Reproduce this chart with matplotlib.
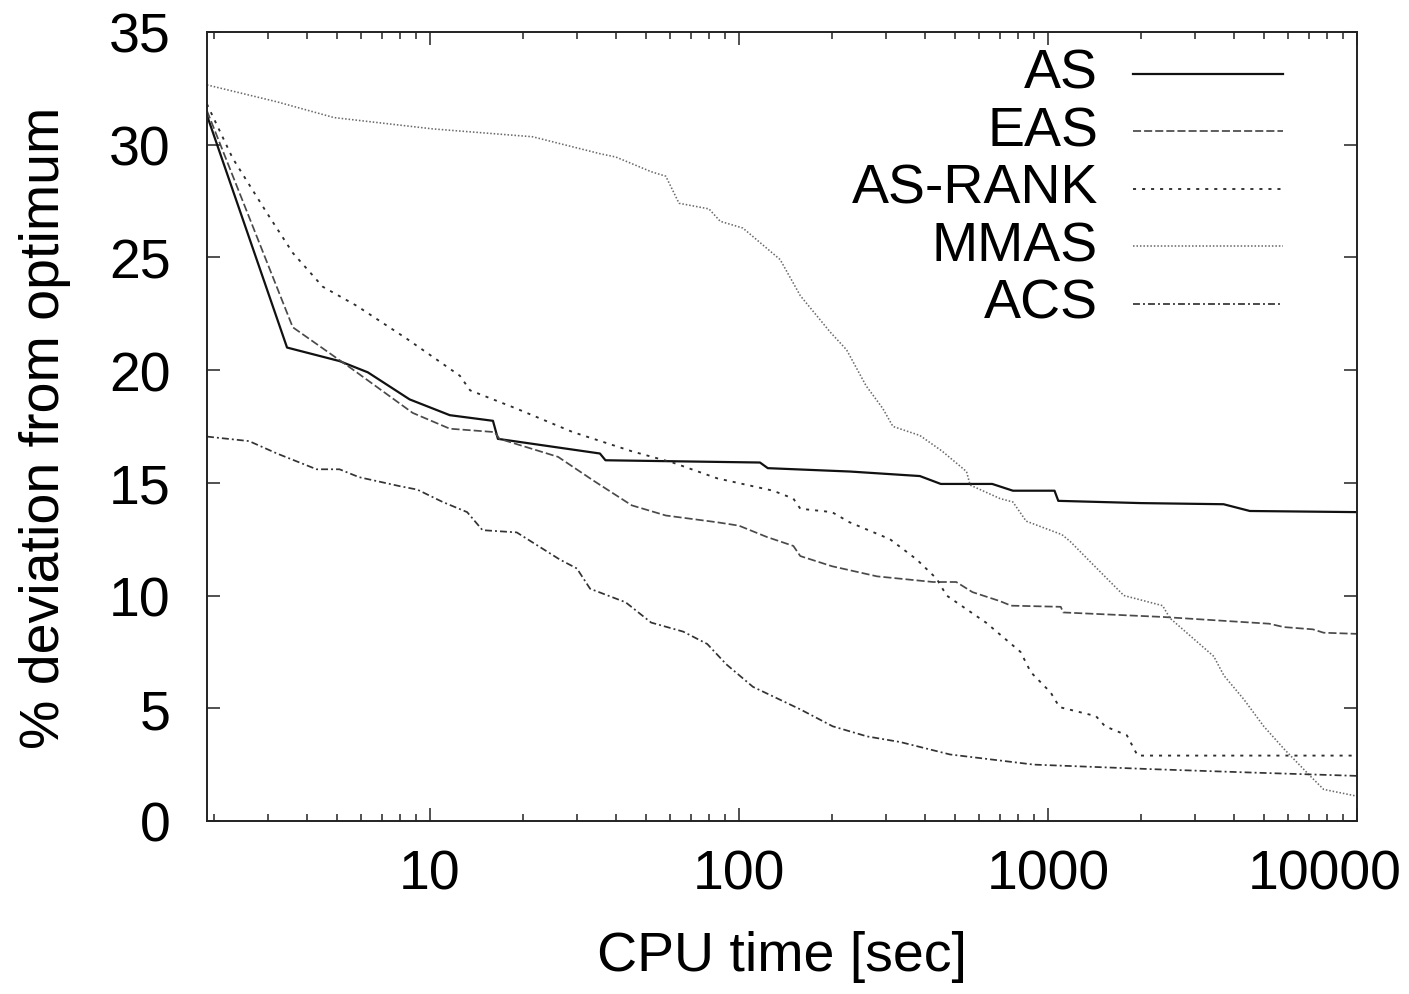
import matplotlib
matplotlib.use('Agg')
import matplotlib.pyplot as plt
import matplotlib.transforms as mtransforms
from matplotlib.ticker import LogLocator, FixedLocator, NullFormatter

plt.rcParams['font.family'] = ['Liberation Sans', 'DejaVu Sans']
plt.rcParams['lines.scale_dashes'] = False

# series (CPU time [sec], % deviation)
as_x = [1.9, 3.45, 5.1, 6.3, 8.6, 11.6, 16.0, 16.6, 25, 35.5, 37, 117, 124, 229, 385,
        450, 660, 770, 1050, 1080, 2000, 3700, 4500, 10000]
as_y = [31.3, 21.0, 20.4, 19.9, 18.7, 18.0, 17.75, 16.95, 16.6, 16.3, 16.0, 15.9, 15.65,
        15.5, 15.3, 14.95, 14.95, 14.65, 14.65, 14.2, 14.1, 14.05, 13.75, 13.7]

eas_x = [1.9, 3.6, 5.6, 8.8, 11.6, 16.2, 16.8, 26, 33.8, 45, 58, 85, 100, 123, 150, 158,
         200, 280, 425, 505, 570, 700, 760, 1100, 1120, 2350, 5200, 5800, 7200, 7800, 10000]
eas_y = [31.5, 21.9, 20.05, 18.1, 17.4, 17.25, 16.95, 16.15, 15.1, 14.0, 13.55, 13.25,
         13.1, 12.6, 12.2, 11.75, 11.3, 10.85, 10.6, 10.6, 10.15, 9.75, 9.55, 9.5, 9.25,
         9.05, 8.75, 8.6, 8.5, 8.35, 8.3]

rank_x = [1.9, 2.3, 2.96, 3.6, 4.5, 5.8, 8.4, 12.5, 13.5, 19, 29, 45, 61, 85, 129, 150,
          158, 200, 228, 308, 376, 436, 470, 630, 815, 880, 1020, 1090, 1430, 1530, 1800,
          1950, 10000]
rank_y = [31.8, 29.4, 27.0, 25.2, 23.7, 22.85, 21.4, 19.75, 19.1, 18.3, 17.25, 16.4,
          15.9, 15.2, 14.65, 14.3, 13.85, 13.7, 13.25, 12.5, 11.6, 10.75, 10.0, 8.8, 7.5,
          6.6, 5.7, 5.05, 4.65, 4.2, 3.8, 2.9, 2.9]

mmas_x = [1.9, 3.2, 4.9, 10.2, 21.5, 35.5, 40, 52, 58, 64, 80, 87, 103, 136, 158, 197,
          223, 258, 292, 315, 385, 455, 545, 560, 700, 770, 850, 1110, 1180, 1370, 1760,
          2350, 2480, 3440, 3710, 4300, 4990, 5800, 7050, 7800, 10000]
mmas_y = [32.65, 31.9, 31.2, 30.7, 30.35, 29.6, 29.45, 28.8, 28.6, 27.4, 27.15, 26.6,
          26.3, 24.9, 23.3, 21.7, 20.9, 19.3, 18.3, 17.5, 17.1, 16.4, 15.5, 14.9, 14.3,
          14.15, 13.3, 12.7, 12.4, 11.5, 10.0, 9.55, 9.0, 7.3, 6.45, 5.4, 4.2, 3.2, 2.0,
          1.4, 1.1]

acs_x = [1.9, 2.6, 3.2, 4.3, 5.1, 5.9, 8.0, 9.1, 11.0, 13.2, 14.8, 19.1, 26.3, 29.9, 33,
         43, 52, 66, 79, 91, 111, 158, 201, 260, 333, 482, 900, 2150, 4500, 10000]
acs_y = [17.05, 16.85, 16.3, 15.6, 15.6, 15.25, 14.85, 14.7, 14.15, 13.7, 12.9, 12.8,
         11.6, 11.2, 10.3, 9.7, 8.8, 8.4, 7.85, 6.95, 5.95, 4.95, 4.2, 3.75, 3.5, 2.95,
         2.5, 2.3, 2.15, 2.0]

names = ['AS', 'EAS', 'AS-RANK', 'MMAS', 'ACS']
xs = [as_x, eas_x, rank_x, mmas_x, acs_x]
ys = [as_y, eas_y, rank_y, mmas_y, acs_y]
colors = ['#111111', '#4a4a4a', '#2e2e2e', '#6a6a6a', '#333333']
widths = [1.6, 1.25, 1.35, 1.15, 1.25]
styles = ['-', (0, (5.8, 2.2)), (0, (2.2, 4.3)), (0, (1.1, 1.4)),
          (0, (5.0, 2.2, 1.4, 2.2))]

FS = 40

fig = plt.figure(figsize=(14.09, 9.95), dpi=100)
ax = fig.add_axes([0.1469, 0.1739, 0.8162, 0.7930])

for x, y, c, w, s in zip(xs, ys, colors, widths, styles):
    ax.plot(x, y, color=c, lw=w, linestyle=s)

ax.set_xscale('log')
ax.set_xlim(1.9, 10000)
ax.set_ylim(0, 35)
ax.xaxis.set_major_locator(FixedLocator([10, 100, 1000, 10000]))
ax.xaxis.set_major_formatter(plt.FuncFormatter(lambda v, p: '%d' % v))
ax.xaxis.set_minor_locator(LogLocator(base=10, subs=range(2, 10)))
ax.xaxis.set_minor_formatter(NullFormatter())
ax.set_yticks(range(0, 36, 5))

ax.tick_params(which='both', direction='in', top=True, right=True, width=1.1,
               labelsize=FS, color='#222222')
ax.tick_params(which='major', length=9.5)
ax.tick_params(which='minor', length=5)
ax.tick_params(axis='y', pad=26)
ax.tick_params(axis='x', pad=20)
for sp in ax.spines.values():
    sp.set_linewidth(1.4)
    sp.set_color('#222222')

# gnuplot pulls the last x label inwards so it stays on the page
last = ax.get_xticklabels()[-1]
last.set_transform(last.get_transform() +
                   mtransforms.ScaledTranslation(-0.32, 0, fig.dpi_scale_trans))

ax.set_xlabel('CPU time [sec]', fontsize=FS)
ax.xaxis.set_label_coords(0.5, -0.138)
ax.set_ylabel('% deviation from optimum', fontsize=FS)
ax.yaxis.set_label_coords(-0.118, 0.5)

# key in the top right, labels right-aligned left of the samples
for i, name in enumerate(names):
    yy = 0.9468 - i * 0.0729
    ax.text(0.7748, yy, name, transform=ax.transAxes, ha='right', va='center',
            fontsize=FS)
    ax.plot([0.805, 0.9357], [yy, yy], transform=ax.transAxes, color=colors[i],
            lw=widths[i], linestyle=styles[i])

fig.savefig('out.png', dpi=100)
